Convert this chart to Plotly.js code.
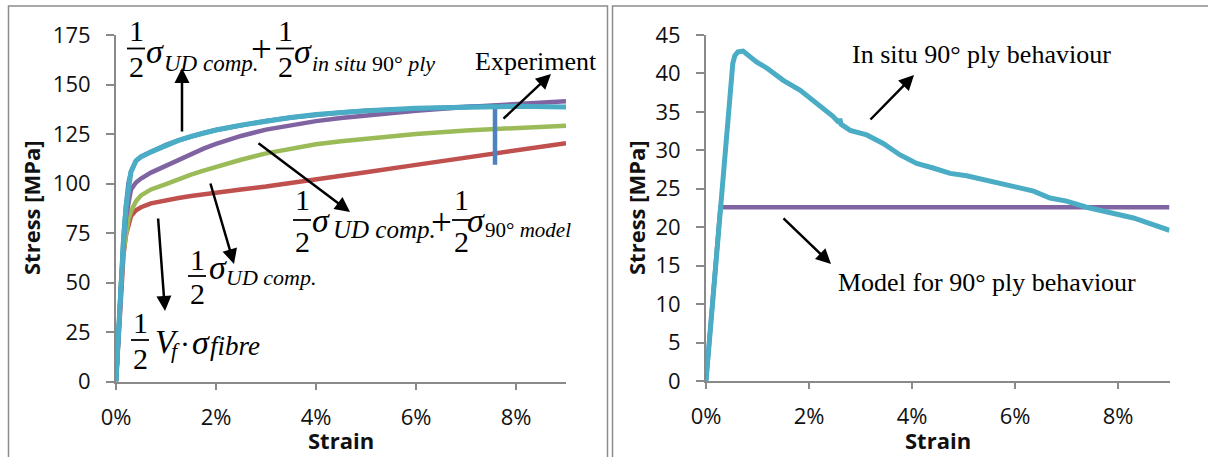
<!DOCTYPE html>
<html><head><meta charset="utf-8">
<script src="https://cdn.plot.ly/plotly-3.0.1.min.js"></script>
<style>html,body{margin:0;padding:0;background:#fff;} #chart{width:1208px;height:457px;}</style>
</head><body><div id="chart"></div>
<script>
// ---------- DATA (left panel) ----------
const strainL      = [0, 0.0005, 0.001, 0.0015, 0.002, 0.0025, 0.003, 0.004, 0.005, 0.007, 0.01, 0.0125, 0.015, 0.0175, 0.02, 0.025, 0.03, 0.035, 0.04, 0.045, 0.05, 0.06, 0.07, 0.08, 0.09];
const fibreHalf    = [0, 25, 48, 64, 74, 80, 83.5, 86.5, 88, 90, 91.7, 92.7, 93.7, 94.6, 95.5, 97, 98.5, 100.2, 102, 103.8, 105.7, 109.4, 113, 116.7, 120.4];
const udHalf       = [0, 26, 50, 66, 76, 82, 86, 91, 94, 97, 99.7, 102.2, 104.5, 106.5, 108.4, 112, 115.2, 117.7, 119.8, 121.3, 122.6, 125, 126.8, 128.2, 129.2];
const udPlusModel  = [0, 27, 51, 70, 83, 92, 97, 100.5, 102.5, 105.5, 109, 112.2, 115, 117.6, 120, 124, 127.2, 129.6, 131.5, 133.1, 134.5, 136.8, 138.6, 140.3, 141.6];
const udPlusInSitu = [0, 27, 52, 72, 88, 100, 106, 111.5, 113.5, 116, 119.5, 121.8, 123.8, 125.5, 127, 129.5, 131.6, 133.3, 134.8, 135.9, 136.8, 138, 138.8, 139, 138.6];
const expStrain    = [0, 0.0005, 0.001, 0.0015, 0.002, 0.0025, 0.003, 0.004, 0.005, 0.007, 0.01, 0.0125, 0.015, 0.0175, 0.02, 0.025, 0.03, 0.035, 0.04, 0.045, 0.05, 0.06, 0.07, 0.0758, 0.0758];
const expStress    = [0, 28, 53, 73, 89, 100.5, 106, 111.5, 113.5, 116, 119.5, 121.8, 123.8, 125.5, 127, 129.5, 131.6, 133.3, 134.8, 135.9, 136.8, 138, 138.8, 139.1, 109.5];

// ---------- DATA (right panel) ----------
const inSituStrain = [0, 0.0052, 0.0056, 0.0062, 0.0072, 0.0085, 0.0098, 0.0118, 0.015, 0.0183, 0.0215, 0.0247, 0.0258, 0.026, 0.0262, 0.028, 0.0312, 0.0344, 0.0377, 0.0409, 0.0441, 0.0474, 0.0506, 0.0538, 0.0571, 0.0603, 0.0636, 0.0668, 0.07, 0.0739, 0.083, 0.09];
const inSituStress = [0, 41.3, 42.3, 42.8, 42.9, 42.2, 41.5, 40.7, 39.1, 37.8, 36.1, 34.4, 33.6, 34.1, 33.4, 32.6, 32.0, 30.9, 29.4, 28.3, 27.7, 27.0, 26.7, 26.2, 25.7, 25.3, 24.7, 23.8, 23.4, 22.6, 21.2, 19.6];
const modelStrain  = [0, 0.0028, 0.09];
const modelStress  = [0, 22.6, 22.6];

const xTickVals = [0, 0.02, 0.04, 0.06, 0.08];
const yTicksL = [0, 25, 50, 75, 100, 125, 150, 175];
const yTicksR = [0, 5, 10, 15, 20, 25, 30, 35, 40, 45];

// ---------- helpers (layout positions in pixels) ----------
const W = 1208, H = 457;
const px = x => x / W, py = y => 1 - y / H;

const traces = [
  {x: strainL, y: fibreHalf, mode:'lines', line:{color:'#C0504D', width:4.5}, xaxis:'x', yaxis:'y'},
  {x: strainL, y: udHalf, mode:'lines', line:{color:'#9BBB59', width:4.5}, xaxis:'x', yaxis:'y'},
  {x: strainL, y: udPlusModel, mode:'lines', line:{color:'#8064A2', width:4.5}, xaxis:'x', yaxis:'y'},
  {x: expStrain, y: expStress, mode:'lines', line:{color:'#4F81BD', width:4.5}, xaxis:'x', yaxis:'y'},
  {x: strainL, y: udPlusInSitu, mode:'lines', line:{color:'#4BACC6', width:5}, xaxis:'x', yaxis:'y'},
  {x: modelStrain, y: modelStress, mode:'lines', line:{color:'#8064A2', width:4.5}, xaxis:'x2', yaxis:'y2'},
  {x: inSituStrain, y: inSituStress, mode:'lines', line:{color:'#4BACC6', width:5}, xaxis:'x2', yaxis:'y2'}
];

const axisBase = {
  showgrid:false, zeroline:false, showline:true, linecolor:'#898989', linewidth:2,
  ticks:'outside', tickcolor:'#898989', tickwidth:2,
  tickfont:{family:'Open Sans', size:22, color:'#111'}, automargin:false, fixedrange:true
};
const xa = (dom, anchor) => Object.assign({}, axisBase, {domain:dom, range:[0,0.09], tickvals:xTickVals, tickformat:'.0%', ticklen:6, ticklabelstandoff:9, anchor:anchor});
const ya = (dom, tv, rng, anchor) => Object.assign({}, axisBase, {domain:dom, range:rng, tickvals:tv, ticklen:8, ticklabelstandoff:11, anchor:anchor});

const ser = size => ({family:'Liberation Serif', size:size, color:'#000'});
const digitFont = ser(30);
const sigFont = ser(34);
const plusFont = ser(37);
const labFont = ser(26);
const ann = [];
const shapes = [];
function txt(x, y, text, font, xanchor, extra) {
  ann.push(Object.assign({x:px(x), y:py(y), xref:'paper', yref:'paper', text:text, showarrow:false, font:font, xanchor:xanchor||'center', yanchor:'middle', borderpad:0}, extra||{}));
}
function frac(cx, barY, half) {
  txt(cx, barY - half, '1', digitFont);
  txt(cx, barY + half, '2', digitFont);
  shapes.push({type:'line', xref:'paper', yref:'paper', x0:px(cx-9), x1:px(cx+9), y0:py(barY), y1:py(barY), line:{color:'#000', width:1.8}});
}
function arrow(tx, ty, hx, hy) {
  ann.push({x:px(hx), y:py(hy), xref:'paper', yref:'paper', ax:tx-hx, ay:ty-hy, text:'', showarrow:true, arrowhead:2, arrowsize:1.2, arrowwidth:2.5, arrowcolor:'#000', standoff:0, startstandoff:0});
}

// Formula 1 : 1/2 σ_UD comp. + 1/2 σ_in situ 90° ply
frac(136, 48.5, 17.5);
txt(145, 51.5, '<i>σ</i>', sigFont, 'left');
txt(163, 63.5, '<i>UD comp.</i>', ser(23), 'left');
txt(261, 49.5, '+', plusFont);
frac(285, 48.5, 17.5);
txt(293, 51.5, '<i>σ</i>', sigFont, 'left');
txt(311, 63, '<i>in situ</i> 90° <i>ply</i>', ser(22), 'left');
// Formula 2 : 1/2 σ_UD comp. + 1/2 σ_90° model
frac(302, 220, 21);
txt(311, 220.5, '<i>σ</i>', sigFont, 'left');
txt(332, 229.5, '<i>UD comp.</i>', ser(25), 'left');
txt(441, 222, '+', plusFont);
frac(461, 220, 21);
txt(466, 220.5, '<i>σ</i>', sigFont, 'left');
txt(484, 230, '90° <i>model</i>', ser(21), 'left');
// Formula 3 : 1/2 σ_UD comp.
frac(197, 276, 17);
txt(208, 267.5, '<i>σ</i>', sigFont, 'left');
txt(225, 277, '<i>UD comp.</i>', ser(22), 'left');
// Formula 4 : 1/2 V_f · σ_fibre
frac(140, 340, 18);
txt(154, 342, '<i>V</i>', ser(33), 'left');
txt(170, 350.5, '<i>f</i>', ser(22), 'left');
txt(185, 343.5, '·', digitFont);
txt(191, 342.5, '<i>σ</i>', sigFont, 'left');
txt(209, 346, '<i>fibre</i>', ser(27), 'left');

// labels
txt(535.5, 62, 'Experiment', labFont);
txt(981, 55, 'In situ 90° ply behaviour', labFont);
txt(986.5, 282, 'Model for 90° ply behaviour', labFont);

// axis titles
const titleFont = {family:'Open Sans', size:22, color:'#111'};
txt(31, 208, '<b>Stress [MPa]</b>', titleFont, 'center', {textangle:-90});
txt(341, 440, '<b>Strain</b>', titleFont);
txt(636, 208, '<b>Stress [MPa]</b>', titleFont, 'center', {textangle:-90});
txt(937.5, 440, '<b>Strain</b>', titleFont);

// arrows (tail x,y -> head x,y)
arrow(182, 133, 182, 68);
arrow(502, 120, 551, 74);
arrow(257, 142, 350, 212);
arrow(210, 182, 234, 264);
arrow(158, 217, 165, 311);
arrow(869, 121, 914, 75);
arrow(782, 217, 831, 264);

// panel frames
shapes.push({type:'rect', xref:'paper', yref:'paper', x0:px(8.5), x1:px(607.5), y0:py(6), y1:py(470), line:{color:'#8c8c8c', width:1.5}});
shapes.push({type:'rect', xref:'paper', yref:'paper', x0:px(612.5), x1:px(1220), y0:py(6), y1:py(470), line:{color:'#8c8c8c', width:1.5}});

const layout = {
  width:W, height:H, margin:{l:0,r:0,t:0,b:0}, showlegend:false,
  paper_bgcolor:'#fff', plot_bgcolor:'#fff',
  xaxis: xa([px(116), px(566)], 'y'),
  yaxis: ya([py(381.5), py(35)], yTicksL, [0,175], 'x'),
  xaxis2: xa([px(706), px(1169.5)], 'y2'),
  yaxis2: ya([py(381), py(35)], yTicksR, [0,45], 'x2'),
  annotations: ann, shapes: shapes
};
Plotly.newPlot('chart', traces, layout, {staticPlot:true, displayModeBar:false});
</script>
</body></html>
